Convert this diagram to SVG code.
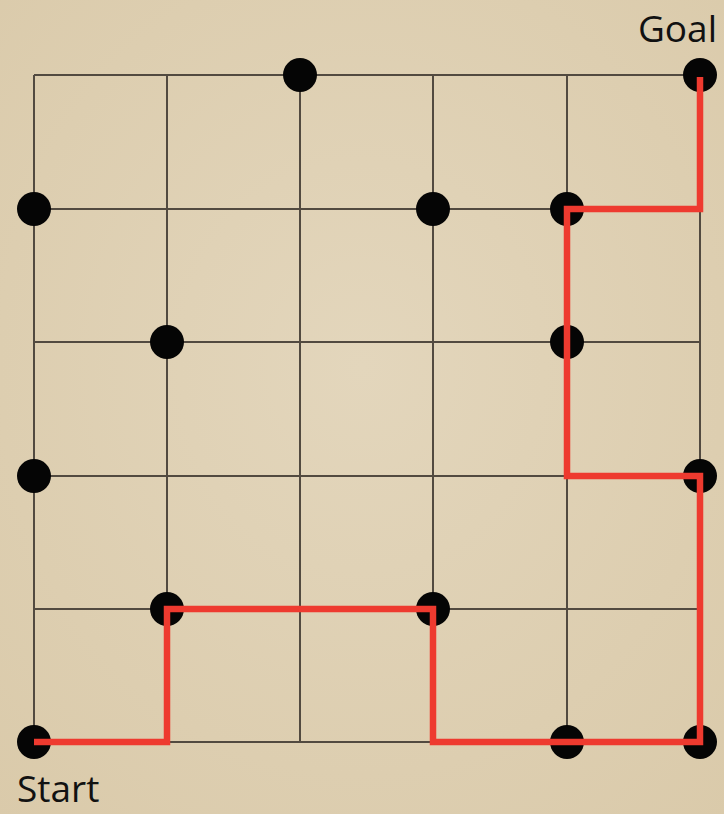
<svg xmlns="http://www.w3.org/2000/svg" width="724" height="814" viewBox="0 0 724 814">
<defs>
<radialGradient id="bg" cx="50%" cy="45%" r="75%">
<stop offset="0" stop-color="#e3d6bc"/>
<stop offset="1" stop-color="#dacaaa"/>
</radialGradient>
<style>
.grid{stroke:#524a40;stroke-width:2;fill:none}
.dot{fill:#050505}
.path{stroke:#ee3a2f;stroke-width:6.5;fill:none;stroke-linejoin:miter;stroke-linecap:butt}
.lbl{font-family:"Open Sans","Liberation Sans",sans-serif;font-size:37px;fill:#111}
</style>
</defs>
<rect width="724" height="814" fill="url(#bg)"/>
<g id="grid" class="grid">
<path d="M34 75H700M34 209H700M34 342H700M34 476H700M34 609H700M34 742H700"/>
<path d="M34 75V742M167 75V742M300 75V742M433 75V742M567 75V742M700 75V742"/>
</g>
<g id="nodes">
<g id="n-300-75"><circle class="dot" cx="300" cy="75" r="17"/></g>
<g id="n-goal"><circle class="dot" cx="700" cy="75" r="17"/></g>
<g id="n-34-209"><circle class="dot" cx="34" cy="209" r="17"/></g>
<g id="n-433-209"><circle class="dot" cx="433" cy="209" r="17"/></g>
<g id="n-567-209"><circle class="dot" cx="567" cy="209" r="17"/></g>
<g id="n-167-342"><circle class="dot" cx="167" cy="342" r="17"/></g>
<g id="n-567-342"><circle class="dot" cx="567" cy="342" r="17"/></g>
<g id="n-34-476"><circle class="dot" cx="34" cy="476" r="17"/></g>
<g id="n-700-476"><circle class="dot" cx="700" cy="476" r="17"/></g>
<g id="n-167-609"><circle class="dot" cx="167" cy="609" r="17"/></g>
<g id="n-433-609"><circle class="dot" cx="433" cy="609" r="17"/></g>
<g id="n-start"><circle class="dot" cx="34" cy="742" r="17"/></g>
<g id="n-567-742"><circle class="dot" cx="567" cy="742" r="17"/></g>
<g id="n-700-742"><circle class="dot" cx="700" cy="742" r="17"/></g>
</g>
<g id="connectors">
<path class="path" d="M34 742H167V609H433V742H700V476H567V209H700V77"/>
</g>
<g id="labels">
<text class="lbl" x="717" y="42" text-anchor="end">Goal</text>
<text class="lbl" x="17" y="802">Start</text>
</g>
</svg>
